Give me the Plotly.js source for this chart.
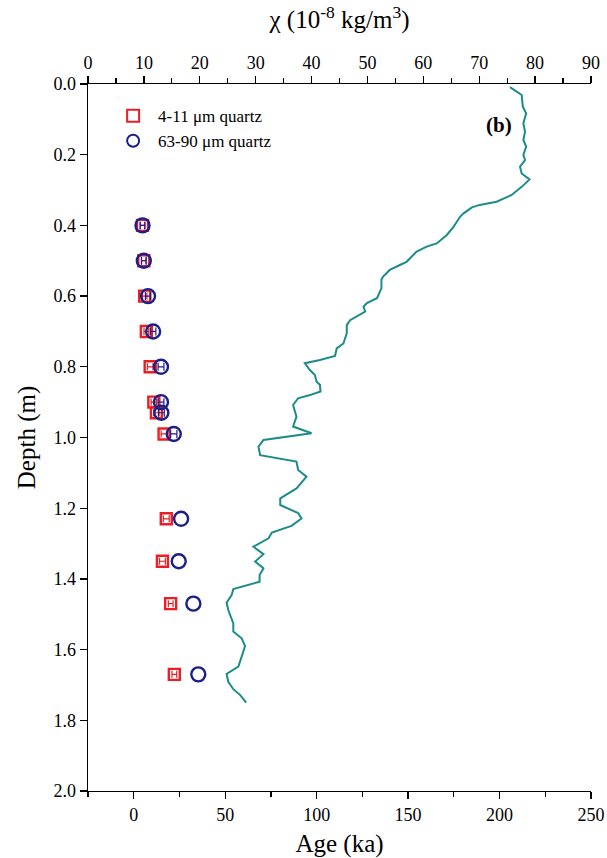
<!DOCTYPE html>
<html>
<head>
<meta charset="utf-8">
<script src="https://cdn.plot.ly/plotly-3.0.1.min.js"></script>
<style>html,body{margin:0;padding:0;background:#fff;}#chart{width:607px;height:858px;}</style>
</head>
<body>
<div id="chart"></div>
<script>
// Luminescence ages (ka) vs depth (m)
const ageDepths = [0.40, 0.50, 0.60, 0.70, 0.80, 0.90, 0.93, 0.99, 1.23, 1.35, 1.47, 1.67];
const fineAge   = [4.8, 5.5, 6.0, 6.9, 9.0, 11.0, 12.4, 16.6, 17.8, 15.7, 20.2, 22.2];
const fineErr   = [1.2, 1.2, 1.2, 1.3, 1.5, 1.5, 1.5, 1.6, 1.6, 1.6, 1.3, 1.3];
const coarseAge = [4.8, 5.5, 7.8, 10.6, 14.9, 14.9, 15.1, 21.9, 25.9, 24.6, 32.6, 35.3];
const coarseErr = [1.3, 1.3, 1.4, 1.5, 1.6, 1.6, 1.6, 1.7, null, null, null, null];

// Magnetic susceptibility profile
const chiDepth = [0.009,0.031,0.064,0.083,0.111,0.135,0.158,0.177,0.201,0.215,0.234,0.253,0.270,0.291,0.314,0.333,0.342,0.349,0.366,0.375,
  0.404,0.427,0.451,0.460,0.474,0.503,0.512,0.526,0.545,0.554,0.578,0.606,0.620,0.630,0.644,0.660,0.668,0.682,0.705,0.734,
  0.748,0.769,0.781,0.790,0.809,0.823,0.842,0.851,0.870,0.880,0.889,0.908,0.941,0.969,0.988,1.007,1.026,1.050,1.068,1.092,
  1.111,1.144,1.172,1.191,1.214,1.229,1.250,1.269,1.285,1.309,1.330,1.351,1.370,1.389,1.408,1.429,1.446,1.467,1.488,1.526,
  1.549,1.568,1.590,1.620,1.648,1.669,1.691,1.712,1.728,1.750];
const chiValue = [75.5,77.6,77.8,78.4,77.9,78.2,77.9,78.4,77.9,78.2,77.3,77.6,79.0,77.6,75.8,73.1,70.1,68.7,67.2,66.6,
  65.4,64.2,62.4,60.6,58.8,57.0,55.8,54.0,52.8,52.5,52.5,51.7,49.9,49.3,49.6,47.8,46.9,46.3,46.3,45.7,
  44.5,44.2,41.5,38.8,39.7,40.6,40.9,41.5,41.6,39.7,37.6,36.7,37.3,36.7,40.0,31.4,30.5,30.8,37.3,37.6,
  39.1,37.3,34.4,34.4,37.6,38.2,36.4,32.9,32.3,29.6,31.4,29.9,31.4,30.7,30.7,26.0,25.7,24.8,25.1,26.0,
  26.0,27.5,28.1,27.5,26.9,24.8,25.1,26.0,27.2,28.3];

const ageTicks = [0, 50, 100, 150, 200, 250];
const chiTicks = [0, 10, 20, 30, 40, 50, 60, 70, 80, 90];
const depthTicks = [0.0, 0.2, 0.4, 0.6, 0.8, 1.0, 1.2, 1.4, 1.6, 1.8, 2.0];

const serif = "'Liberation Serif', 'DejaVu Serif', serif";
const red = '#ee1c24';
const navy = '#1b1f8a';
const teal = '#1b8c8a';

const withErr = coarseErr.map((e, i) => e !== null ? i : -1).filter(i => i >= 0);
const noErr = coarseErr.map((e, i) => e === null ? i : -1).filter(i => i >= 0);
const coarseMarker = {symbol: 'circle-open', size: 14, color: navy, line: {width: 2.4, color: navy}};

const traces = [
  {
    x: chiValue, y: chiDepth, xaxis: 'x2', yaxis: 'y',
    mode: 'lines', line: {color: teal, width: 2},
    showlegend: false, hoverinfo: 'skip'
  },
  {
    x: fineAge, y: ageDepths, mode: 'markers', name: '4-11 μm quartz',
    marker: {symbol: 'square-open', size: 11, color: red, line: {width: 2.4, color: red}},
    error_x: {type: 'data', array: fineErr, visible: true, color: red, thickness: 1.2, width: 3.5}
  },
  {
    x: withErr.map(i => coarseAge[i]), y: withErr.map(i => ageDepths[i]), mode: 'markers', name: '63-90 μm quartz',
    legendgroup: 'coarse', marker: coarseMarker,
    error_x: {type: 'data', array: withErr.map(i => coarseErr[i]), visible: true, color: navy, thickness: 1.2, width: 4}
  },
  {
    x: noErr.map(i => coarseAge[i]), y: noErr.map(i => ageDepths[i]), mode: 'markers', name: '63-90 μm quartz',
    legendgroup: 'coarse', showlegend: false, marker: coarseMarker
  }
];

const axisCommon = {
  showgrid: false, zeroline: false, showline: true, linecolor: '#000', linewidth: 1.3,
  ticks: 'outside', ticklen: 7, tickwidth: 1.3, tickcolor: '#000',
  tickfont: {family: serif, size: 18, color: '#000'}
};

const layout = {
  width: 607, height: 858,
  margin: {l: 88, r: 16, t: 84, b: 67},
  paper_bgcolor: '#fff', plot_bgcolor: '#fff',
  font: {family: serif, color: '#000'},
  xaxis: Object.assign({}, axisCommon, {
    range: [-25, 250], tickmode: 'array', tickvals: ageTicks, ticktext: ageTicks.map(String),
    minor: {tickmode: 'linear', tick0: 25, dtick: 50, ticks: 'outside', ticklen: 5, tickwidth: 1.2, tickcolor: '#000'},
    title: {text: 'Age (ka)', font: {family: serif, size: 25, color: '#000'}, standoff: 10}
  }),
  xaxis2: Object.assign({}, axisCommon, {
    range: [0, 90], overlaying: 'x', side: 'top', anchor: 'y',
    tickmode: 'array', tickvals: chiTicks, ticktext: chiTicks.map(String),
    minor: {tickmode: 'linear', tick0: 5, dtick: 10, ticks: 'outside', ticklen: 5, tickwidth: 1.2, tickcolor: '#000'},
    title: {text: 'χ (10<sup>-8</sup> kg/m<sup>3</sup>)', font: {family: serif, size: 25, color: '#000'}, standoff: 16}
  }),
  yaxis: Object.assign({}, axisCommon, {
    range: [2.0, 0.0], tickmode: 'array', tickvals: depthTicks, ticktext: depthTicks.map(v => v.toFixed(1)),
    title: {text: 'Depth (m)', font: {family: serif, size: 25, color: '#000'}, standoff: 10}
  }),
  legend: {
    x: 0.04, y: 0.98, xanchor: 'left', yanchor: 'top',
    bgcolor: 'rgba(0,0,0,0)', borderwidth: 0,
    font: {family: serif, size: 17, color: '#000'},
    tracegroupgap: 0, itemsizing: 'constant', itemwidth: 40
  },
  annotations: [{
    xref: 'paper', yref: 'paper', x: 0.817, y: 0.942, xanchor: 'center', yanchor: 'middle',
    text: '<b>(b)</b>', showarrow: false, font: {family: serif, size: 21, color: '#000'}
  }]
};

Plotly.newPlot('chart', traces, layout, {displayModeBar: false, staticPlot: true});
</script>
</body>
</html>
